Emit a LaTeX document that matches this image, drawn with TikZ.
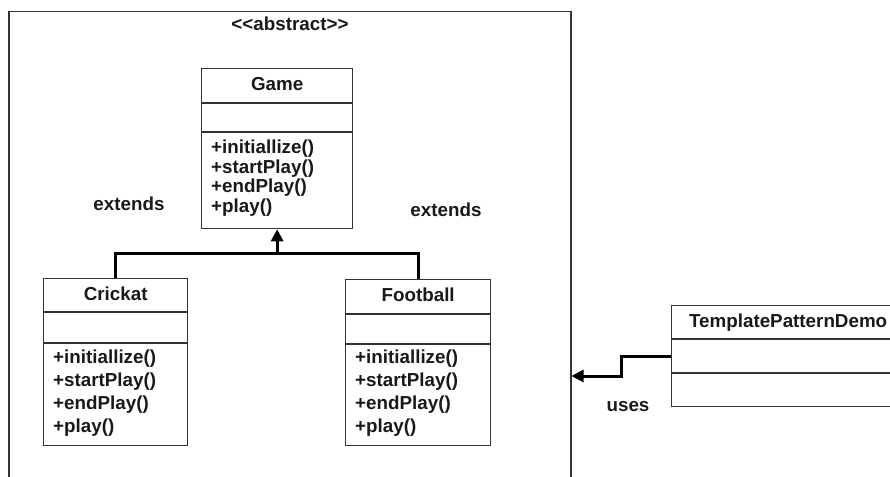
\documentclass[tikz,border=0pt]{standalone}
\usepackage{fontspec}
\setmainfont{Liberation Sans}[Ligatures=TeXOff]
\usetikzlibrary{arrows.meta,calc}
\tikzset{
  box/.style={draw=black!80, line width=1.3pt, rectangle, inner sep=0pt, anchor=north west, fill=white},
  divider/.style={draw=black!80, line width=1.3pt},
  frm/.style={draw=black!80, line width=1.5pt, rectangle, inner sep=0pt, anchor=north west},
  conn/.style={draw=black, line width=3pt},
  tip/.style={-{Triangle[length=12pt,width=12pt]}},
  txt/.style={font=\fontsize{18.8}{20}\selectfont\bfseries, inner sep=0pt, text=black!90},
  meth/.style={txt, anchor=base west},
  head/.style={txt, anchor=base},
}
\begin{document}
\begin{tikzpicture}[x=1pt,y=-1pt]
\useasboundingbox (0,0) rectangle (890,476);
\clip (0,0) rectangle (890,476);
% outer frame
\node[frm, minimum width=562pt, minimum height=500pt] (frame) at (8,11) {};
\node[head] (abs) at (290,31) {<\kern0pt<abstract>\kern0pt>};
% Game
\node[box, minimum width=151pt, minimum height=160pt] (game) at (201,68) {};
\draw[divider] (201,103) -- (352,103);
\draw[divider] (201,132) -- (352,132);
\node[head] (gameT) at (game.north |- 0,91) {Game};
\node[meth] (g1) at (211,153) {+initiallize()};
\node[meth] (g2) at (211,173) {+startPlay()};
\node[meth] (g3) at (211,192) {+endPlay()};
\node[meth] (g4) at (211,212) {+play()};
% Crickat
\node[box, minimum width=144pt, minimum height=167pt] (crick) at (43,278) {};
\draw[divider] (43,312) -- (187,312);
\draw[divider] (43,343) -- (187,343);
\node[head] (crickT) at (crick.north |- 0,300) {Crickat};
\node[meth] (c1) at (53,363) {+initiallize()};
\node[meth] (c2) at (53,386) {+startPlay()};
\node[meth] (c3) at (53,409) {+endPlay()};
\node[meth] (c4) at (53,432) {+play()};
% Football
\node[box, minimum width=145pt, minimum height=166pt] (foot) at (345,279) {};
\draw[divider] (345,314) -- (490,314);
\draw[divider] (345,344) -- (490,344);
\node[head] (footT) at (foot.north |- 0,301) {Football};
\node[meth] (f1) at (355,363) {+initiallize()};
\node[meth] (f2) at (355,386) {+startPlay()};
\node[meth] (f3) at (355,409) {+endPlay()};
\node[meth] (f4) at (355,432) {+play()};
% TemplatePatternDemo
\node[box, minimum width=233pt, minimum height=101pt] (tpd) at (671,305) {};
\draw[divider] (671,339) -- (904,339);
\draw[divider] (671,373) -- (904,373);
\node[head] (tpdT) at (tpd.north |- 0,327) {TemplatePatternDemo};
% labels
\node[head] (ext1) at (129,210) {extends};
\node[head] (ext2) at (446,216) {extends};
\node[head] (uses) at (628,411) {uses};
% inheritance connectors
\coordinate (j) at (game.south |- 0,253);
\draw[conn] (crick.north) -- (crick.north |- j) -- (foot.north |- j) -- (foot.north);
\draw[conn, tip] (j) -- (game.south);
% uses connector
\coordinate (u1) at (tpd.west |- 0,356);
\coordinate (u2) at (621,356);
\coordinate (u3) at (621,376);
\draw[conn, tip] (u1) -- (u2) -- (u3) -- (frame.east |- u3);
\end{tikzpicture}
\end{document}
